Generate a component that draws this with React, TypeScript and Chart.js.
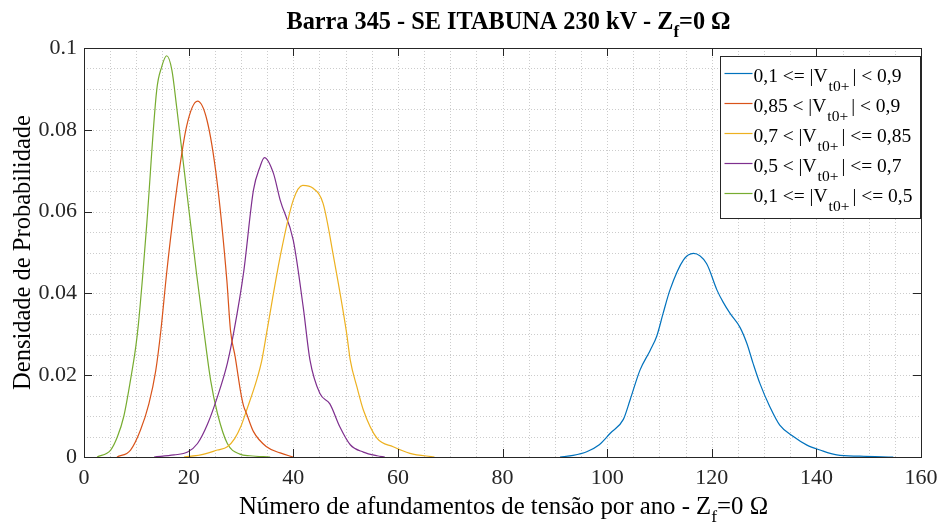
import React, { useEffect, useRef } from "react";
import { Chart, registerables } from "chart.js";

Chart.register(...registerables);

// ---- data ----
const X_BLUE = [91, 93.5, 96.1, 98.5, 100.6, 103.1, 104.4, 106.3, 108.2, 109.5, 110.7, 112.0, 114.6, 116.5, 119.0, 121.0, 122.2, 123.5, 125.4, 126.7, 127.9, 129.2, 131.1, 133.0, 135.6, 138.2, 140.7, 143.9, 148.3, 154.7];
const Y_BLUE = [0, 0.0004, 0.0013, 0.003, 0.0058, 0.0092, 0.014, 0.0213, 0.026, 0.0296, 0.0351, 0.0408, 0.0482, 0.0498, 0.0473, 0.0408, 0.0378, 0.0351, 0.0317, 0.0278, 0.0229, 0.018, 0.0123, 0.0078, 0.005, 0.0029, 0.0017, 0.0005, 0.0002, 0];

const X_RED = [6.3, 8.9, 10.8, 12.4, 13.7, 14.7, 15.8, 17.7, 19.6, 21.7, 23.5, 25.4, 27.3, 28.0, 28.9, 30.0, 30.5, 31.1, 32.4, 34.9, 37.5, 40];
const Y_RED = [0, 0.0017, 0.0066, 0.013, 0.021, 0.031, 0.045, 0.0653, 0.0808, 0.087, 0.0824, 0.0677, 0.0433, 0.031, 0.0245, 0.0155, 0.0125, 0.0105, 0.0062, 0.0025, 0.001, 0];

const X_YELLOW = [19.1, 22.3, 25.5, 27.4, 28.8, 30.0, 31.1, 33.0, 34.0, 35.0, 37.5, 40.0, 41.8, 43.8, 45.7, 47.7, 50.2, 50.9, 52.2, 53.4, 56.0, 59.1, 62.3, 67];
const Y_YELLOW = [0, 0.0005, 0.0017, 0.0025, 0.0045, 0.0075, 0.0115, 0.0188, 0.0237, 0.031, 0.049, 0.0628, 0.0664, 0.0657, 0.062, 0.049, 0.0303, 0.0237, 0.017, 0.0115, 0.0046, 0.0025, 0.0009, 0];

const X_PURPLE = [13.4, 17.2, 19.8, 21.7, 23.6, 25.5, 27.4, 28.7, 30.5, 32.4, 33.6, 34.5, 36.2, 37.5, 40.0, 41.9, 43.2, 45.1, 47.0, 48.9, 50.9, 53.4, 56, 57.5];
const Y_PURPLE = [0, 0.0005, 0.0012, 0.0033, 0.008, 0.0147, 0.0229, 0.031, 0.045, 0.0653, 0.0708, 0.0732, 0.0694, 0.0628, 0.053, 0.0367, 0.0237, 0.0155, 0.013, 0.0074, 0.003, 0.0012, 0.0003, 0];

const X_GREEN = [2.5, 5.1, 6.4, 7.6, 8.9, 9.9, 10.4, 11.2, 12.0, 13.9, 14.85, 15.8, 16.8, 17.7, 19.6, 21.5, 22.9, 24.2, 25.5, 27.4, 29.8, 31.7, 35.6];
const Y_GREEN = [0, 0.0017, 0.005, 0.0099, 0.0189, 0.027, 0.0325, 0.044, 0.057, 0.0897, 0.0954, 0.0981, 0.0946, 0.0857, 0.0653, 0.045, 0.031, 0.0188, 0.0107, 0.0033, 0.0007, 0.0003, 0];

const X_TICKS = [0, 20, 40, 60, 80, 100, 120, 140, 160];
const Y_TICKS = [0, 0.02, 0.04, 0.06, 0.08, 0.1];
const Y_TICK_LABELS = ["0", "0.02", "0.04", "0.06", "0.08", "0.1"];

const SERIES_NAMES = [
  ["0,1 <= |V", "t0+", "| < 0,9"],
  ["0,85 < |V", "t0+", "| < 0,9"],
  ["0,7 < |V", "t0+", "| <= 0,85"],
  ["0,5 < |V", "t0+", "| <= 0,7"],
  ["0,1 <= |V", "t0+", "| <= 0,5"],
];
const COLORS = ["#0072BD", "#D95319", "#EDB120", "#7E2F8E", "#77AC30"];
const SERIES_X = [X_BLUE, X_RED, X_YELLOW, X_PURPLE, X_GREEN];
const SERIES_Y = [Y_BLUE, Y_RED, Y_YELLOW, Y_PURPLE, Y_GREEN];

const TITLE = ["Barra 345 - SE ITABUNA 230 kV - Z", "f", "=0 Ω"];
const X_TITLE = ["Número de afundamentos de tensão por ano - Z", "f", "=0 Ω"];
const Y_TITLE = "Densidade de Probabilidade";

const FONT = "'Liberation Serif', 'Times New Roman', serif";
const INK = "#262626";

function drawRich(ctx: CanvasRenderingContext2D, parts: string[], cx: number, y: number, size: number, subSize: number, subDy: number, weight: string, align: "center" | "left", subPadL = 0, subPadR = 0) {
  const main = `${weight} ${size}px ${FONT}`;
  const sub = `${weight} ${subSize}px ${FONT}`;
  const widths = parts.map((p, i) => {
    ctx.font = i === 1 ? sub : main;
    return ctx.measureText(p).width + (i === 1 ? subPadL + subPadR : 0);
  });
  const total = widths.reduce((a, b) => a + b, 0);
  let x = align === "center" ? cx - total / 2 : cx;
  ctx.textAlign = "left";
  ctx.textBaseline = "alphabetic";
  parts.forEach((p, i) => {
    ctx.font = i === 1 ? sub : main;
    ctx.fillText(p, i === 1 ? x + subPadL : x, i === 1 ? y + subDy : y);
    x += widths[i];
  });
}

const overlayPlugin = {
  id: "overlay",
  beforeDatasetsDraw(chart: any) {
    const { ctx, chartArea: a, scales } = chart;
    const xs = scales.x, ys = scales.y;
    ctx.save();
    ctx.strokeStyle = "rgba(0,0,0,0.2)";
    ctx.lineWidth = 1;
    ctx.setLineDash([1, 2]);
    for (let v = 5; v < 160; v += 5) {
      const px = Math.round(xs.getPixelForValue(v)) + 0.5;
      ctx.beginPath();
      ctx.moveTo(px, a.top);
      ctx.lineTo(px, a.bottom);
      ctx.stroke();
    }
    for (let k = 1; k < 20; k++) {
      const py = Math.round(ys.getPixelForValue(k * 0.005)) + 0.5;
      ctx.beginPath();
      ctx.moveTo(a.left, py);
      ctx.lineTo(a.right, py);
      ctx.stroke();
    }
    ctx.restore();
  },
  afterDatasetsDraw(chart: any) {
    const { ctx, chartArea: a, scales } = chart;
    const xs = scales.x, ys = scales.y;
    ctx.save();
    ctx.strokeStyle = INK;
    ctx.lineWidth = 1;
    ctx.setLineDash([]);
    ctx.strokeRect(Math.round(a.left) + 0.5, Math.round(a.top) + 0.5, Math.round(a.right - a.left), Math.round(a.bottom - a.top));
    const tl = 8;
    X_TICKS.forEach((v) => {
      const px = Math.round(xs.getPixelForValue(v)) + 0.5;
      ctx.beginPath();
      ctx.moveTo(px, a.bottom);
      ctx.lineTo(px, a.bottom - tl);
      ctx.moveTo(px, a.top);
      ctx.lineTo(px, a.top + tl);
      ctx.stroke();
    });
    Y_TICKS.forEach((v) => {
      const py = Math.round(ys.getPixelForValue(v)) + 0.5;
      ctx.beginPath();
      ctx.moveTo(a.left, py);
      ctx.lineTo(a.left + tl, py);
      ctx.moveTo(a.right, py);
      ctx.lineTo(a.right - tl, py);
      ctx.stroke();
    });
    // legend
    const lw = 200, lh = 162;
    const lx = Math.round(a.right) - lw - 1 + 0.5;
    const ly = Math.round(a.top) + 8 + 0.5;
    ctx.fillStyle = "#ffffff";
    ctx.fillRect(lx, ly, lw, lh);
    ctx.strokeStyle = INK;
    ctx.strokeRect(lx, ly, lw, lh);
    SERIES_NAMES.forEach((parts, i) => {
      const cy = ly + 17 + i * 30;
      ctx.strokeStyle = COLORS[i];
      ctx.lineWidth = 1.2;
      ctx.beginPath();
      ctx.moveTo(lx + 4, cy);
      ctx.lineTo(lx + 32, cy);
      ctx.stroke();
      ctx.fillStyle = "#000";
      drawRich(ctx, parts, lx + 33, cy + 8, 19.5, 15.5, 9, "normal", "left", 1, 3);
    });
    ctx.restore();
  },
  afterDraw(chart: any) {
    const { ctx, chartArea: a } = chart;
    ctx.save();
    ctx.fillStyle = "#000";
    const cx = (a.left + a.right) / 2;
    drawRich(ctx, TITLE, cx + 6, 29, 24.3, 17, 8, "bold", "center");
    drawRich(ctx, X_TITLE, cx + 1, 514, 24.8, 17.5, 8, "normal", "center");
    ctx.translate(24, (a.top + a.bottom) / 2);
    ctx.rotate(-Math.PI / 2);
    ctx.font = `normal 24.5px ${FONT}`;
    ctx.textAlign = "center";
    ctx.textBaseline = "middle";
    ctx.fillText(Y_TITLE, 0, 0);
    ctx.restore();
  },
};

export default function App() {
  const ref = useRef<HTMLCanvasElement | null>(null);
  useEffect(() => {
    if (!ref.current) return;
    const datasets = SERIES_X.map((xs, i) => ({
      label: SERIES_NAMES[i].join(""),
      data: xs.map((x, j) => ({ x, y: SERIES_Y[i][j] })),
      borderColor: COLORS[i],
      backgroundColor: COLORS[i],
      borderWidth: 1.2,
      pointRadius: 0,
      cubicInterpolationMode: "monotone" as const,
      fill: false,
    }));
    const chart = new Chart(ref.current, {
      type: "line",
      data: { datasets },
      options: {
        animation: false,
        responsive: false,
        layout: { padding: { top: 48, right: 25, left: 0, bottom: 0 } },
        plugins: { legend: { display: false }, tooltip: { enabled: false }, title: { display: false } },
        scales: {
          x: {
            type: "linear",
            min: 0,
            max: 160,
            afterFit: (s: any) => { s.height = 70; },
            afterBuildTicks: (s: any) => { s.ticks = X_TICKS.map((v) => ({ value: v })); },
            grid: { display: false, drawTicks: false },
            border: { display: false },
            ticks: { padding: 8, color: INK, font: { family: FONT, size: 22 }, maxRotation: 0, callback: (v: any) => String(v) },
          },
          y: {
            type: "linear",
            min: 0,
            max: 0.1,
            afterFit: (s: any) => { s.width = 84; },
            afterBuildTicks: (s: any) => { s.ticks = Y_TICKS.map((v) => ({ value: v })); },
            grid: { display: false, drawTicks: false },
            border: { display: false },
            ticks: {
              padding: 7,
              color: INK,
              font: { family: FONT, size: 22 },
              callback: (v: any) => { const i = Y_TICKS.findIndex((t) => Math.abs(t - v) < 1e-9); return i >= 0 ? Y_TICK_LABELS[i] : ""; },
            },
          },
        },
      },
      plugins: [overlayPlugin],
    });
    return () => chart.destroy();
  }, []);
  return (
    <div style={{ position: "absolute", left: 0, top: 0, width: 946, height: 527, background: "#fff" }}>
      <canvas ref={ref} width={946} height={527} style={{ display: "block" }} />
    </div>
  );
}
